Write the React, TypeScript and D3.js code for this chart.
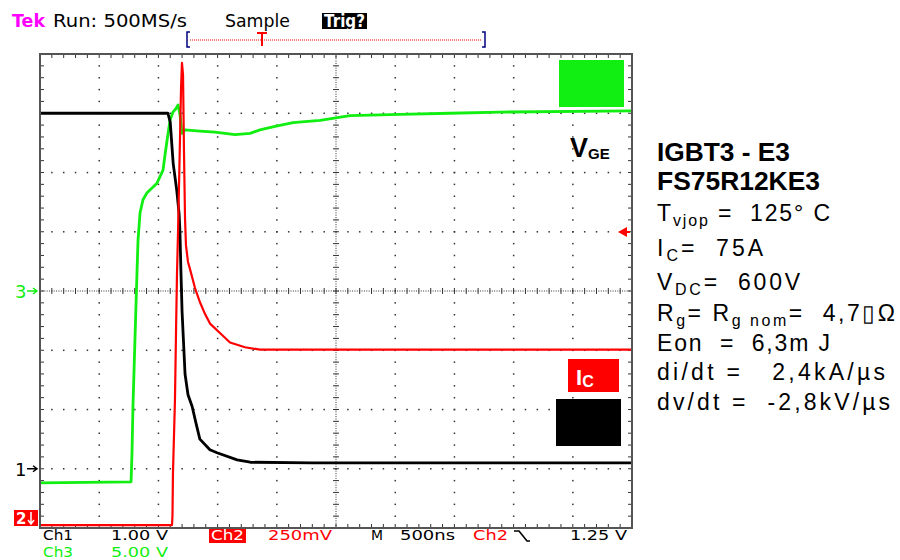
import React from 'react';
import * as d3 from 'd3';

// ---- data ----
// time in ns from left edge of screen (500 ns/div)
const ch1Time = [0, 1080, 1100, 1125, 1155, 1175, 1182, 1190, 1200, 1225, 1250, 1285, 1320, 1350, 1435, 1495, 1665, 1775, 2300, 5000];
const ch1Volt = [6.0, 6.0, 5.85, 5.15, 4.7, 4.3, 4.0, 3.35, 2.65, 1.6, 1.25, 1.05, 0.75, 0.5, 0.32, 0.27, 0.15, 0.11, 0.1, 0.1];

const ch3Time = [0, 769, 777, 785, 802, 819, 828, 845, 870, 904, 946, 988, 1039, 1056, 1073, 1098, 1123, 1149, 1166, 1182, 1199, 1225, 1351, 1478, 1647, 1774, 1858, 1985, 2137, 2365, 2618, 3041, 3463, 3885, 5000];
const ch3Volt = [-16.2, -16.1, -13.7, -9.8, -4.1, 1.5, 4.3, 6.6, 7.7, 8.3, 8.7, 9.1, 10.2, 11.5, 12.7, 14.4, 15.1, 15.4, 15.7, 14.9, 13.3, 13.6, 13.5, 13.4, 13.2, 13.3, 13.6, 13.9, 14.2, 14.4, 14.8, 14.9, 15.0, 15.1, 15.2];

const ch2Time = [0, 1115, 1119, 1123, 1140, 1149, 1157, 1166, 1182, 1191, 1199, 1208, 1216, 1225, 1233, 1250, 1267, 1309, 1351, 1394, 1436, 1520, 1605, 1731, 1858, 5000];
const ch2Volt = [0, 0, 0.04, 0.22, 0.53, 0.82, 1.06, 1.24, 1.62, 1.84, 1.95, 1.9, 1.58, 1.29, 1.18, 1.11, 1.08, 1.0, 0.94, 0.89, 0.85, 0.81, 0.77, 0.75, 0.74, 0.74];

// channel settings: volts/div and ground offset (div from centre)
const ch1Scale = 1.0, ch1Offset = -3;
const ch2Scale = 0.25, ch2Offset = -3.95;
const ch3Scale = 5.0, ch3Offset = 0;
const timePerDiv = 500;

const headerTexts = ['Tek', 'Run: 500MS/s', 'Sample', 'Trig?'];
const footerRow1 = ['Ch1', '1.00 V', 'Ch2', '250mV', 'M', '500ns', 'Ch2', '1.25 V'];
const footerRow2 = ['Ch3', '5.00 V'];

// ---- layout ----
const W = 900, H = 560;
const X0 = 40, X1 = 632, Y0 = 54, Y1 = 528;
const NX = 10, NY = 8;

const GREEN = '#11ee11';
const RED = '#ff0000';

export default function App() {
  const x = d3.scaleLinear().domain([0, NX * timePerDiv]).range([X0, X1]);
  const y = d3.scaleLinear().domain([-NY / 2, NY / 2]).range([Y1, Y0]);
  const xd = d3.scaleLinear().domain([0, NX]).range([X0, X1]);

  const mk = (t: number[], v: number[], sc: number, off: number) =>
    d3.line<number>().x((_, i) => x(t[i])).y((_, i) => y(v[i] / sc + off))(t);

  const p1 = mk(ch1Time, ch1Volt, ch1Scale, ch1Offset) || '';
  const p2 = mk(ch2Time, ch2Volt, ch2Scale, ch2Offset) || '';
  const p3 = mk(ch3Time, ch3Volt, ch3Scale, ch3Offset) || '';

  const dots: JSX.Element[] = [];
  const gridCol = '#333';
  for (let i = 1; i < NX; i++) {
    if (i === NX / 2) continue;
    for (let j = 1; j < NY * 5; j++) {
      dots.push(<rect key={`v${i}-${j}`} x={xd(i) - 0.7} y={y(-NY / 2 + j / 5) - 0.7} width={1.5} height={1.5} fill={gridCol} />);
    }
  }
  for (let j = 1; j < NY; j++) {
    if (j === NY / 2) continue;
    for (let i = 1; i < NX * 5; i++) {
      dots.push(<rect key={`h${i}-${j}`} x={xd(i / 5) - 0.7} y={y(-NY / 2 + j) - 0.7} width={1.5} height={1.5} fill={gridCol} />);
    }
  }
  const cx = xd(NX / 2), cy = y(0);
  const centre: JSX.Element[] = [];
  for (let i = 0; i <= NX * 25; i++) {
    centre.push(<rect key={`ch${i}`} x={xd(i / 25) - 0.5} y={cy - 0.5} width={1} height={1} fill={gridCol} />);
  }
  for (let j = 0; j <= NY * 25; j++) {
    centre.push(<rect key={`cv${j}`} x={cx - 0.5} y={y(-NY / 2 + j / 25) - 0.5} width={1} height={1} fill={gridCol} />);
  }
  for (let i = 1; i < NX * 5; i++) {
    centre.push(<line key={`cth${i}`} x1={xd(i / 5)} x2={xd(i / 5)} y1={cy - 3} y2={cy + 3} stroke={gridCol} strokeWidth={1} />);
  }
  for (let j = 1; j < NY * 5; j++) {
    centre.push(<line key={`ctv${j}`} x1={cx - 3} x2={cx + 3} y1={y(-NY / 2 + j / 5)} y2={y(-NY / 2 + j / 5)} stroke={gridCol} strokeWidth={1} />);
  }
  const edge: JSX.Element[] = [];
  for (let i = 1; i < NX * 5; i++) {
    const xx = xd(i / 5);
    edge.push(<line key={`et${i}`} x1={xx} x2={xx} y1={Y0} y2={Y0 + 4} stroke={gridCol} />);
    edge.push(<line key={`eb${i}`} x1={xx} x2={xx} y1={Y1} y2={Y1 - 4} stroke={gridCol} />);
  }
  for (let j = 1; j < NY * 5; j++) {
    const yy = y(-NY / 2 + j / 5);
    edge.push(<line key={`el${j}`} x1={X0} x2={X0 + 4} y1={yy} y2={yy} stroke={gridCol} />);
    edge.push(<line key={`er${j}`} x1={X1} x2={X1 - 4} y1={yy} y2={yy} stroke={gridCol} />);
  }

  const scopeFont = "'DejaVu Sans', sans-serif";
  const panelFont = "'Liberation Sans', Arial, sans-serif";
  const trigX = 262;
  const pre = { whiteSpace: 'pre' as const };

  return (
    <svg width={W} height={H} style={{ position: 'absolute', left: 0, top: 0, background: '#fff' }} xmlns="http://www.w3.org/2000/svg">
      <rect x={0} y={0} width={W} height={H} fill="#fff" />
      {/* header */}
      <g fontFamily={scopeFont} fontSize={17}>
        <text x={12} y={27} fill="#ff00ff" fontWeight="bold" textLength={33} lengthAdjust="spacingAndGlyphs">{headerTexts[0]}</text>
        <text x={53} y={27} fill="#000" textLength={134} lengthAdjust="spacingAndGlyphs">{headerTexts[1]}</text>
        <text x={225} y={27} fill="#000" textLength={65} lengthAdjust="spacingAndGlyphs">{headerTexts[2]}</text>
        <rect x={322} y={13} width={45} height={16} fill="#000" />
        <text x={324} y={27} fill="#fff" fontWeight="bold" textLength={41} lengthAdjust="spacingAndGlyphs">{headerTexts[3]}</text>
      </g>
      {/* trigger bar */}
      <line x1={190} x2={482} y1={40} y2={40} stroke={RED} strokeWidth={1} strokeDasharray="1 1" />
      <path d="M190,32 L187,32 L187,47 L190,47" fill="none" stroke="#000080" strokeWidth={1.5} />
      <path d="M482,32 L485,32 L485,47 L482,47" fill="none" stroke="#000080" strokeWidth={1.5} />
      <path d={`M${trigX - 5},33 L${trigX + 5},33 M${trigX},33 L${trigX},46`} stroke={RED} strokeWidth={2} fill="none" />

      {/* plot area */}
      <rect x={X0} y={Y0} width={X1 - X0} height={Y1 - Y0} fill="#fff" />
      {dots}
      {centre}
      {edge}
      <defs>
        <clipPath id="plotclip"><rect x={X0} y={Y0} width={X1 - X0} height={Y1 - Y0} /></clipPath>
      </defs>
      <g clipPath="url(#plotclip)" fill="none" strokeLinejoin="round">
        <path d={p3} stroke={GREEN} strokeWidth={2.8} />
        <path d={p1} stroke="#000" strokeWidth={2.8} />
        <path d={p2} stroke={RED} strokeWidth={2.2} />
      </g>
      <rect x={X0} y={Y0} width={X1 - X0} height={Y1 - Y0} fill="none" stroke="#555" strokeWidth={2} />

      {/* channel markers */}
      <text x={15} y={y(ch3Offset) + 7} fill={GREEN} fontFamily={scopeFont} fontSize={18}>3</text>
      <path d={`M27,${y(ch3Offset)} L37,${y(ch3Offset)} M33,${y(ch3Offset) - 3} L37,${y(ch3Offset)} L33,${y(ch3Offset) + 3}`} stroke={GREEN} strokeWidth={1.5} fill="none" />
      <text x={15} y={y(ch1Offset) + 7} fill="#000" fontFamily={scopeFont} fontSize={18}>1</text>
      <path d={`M27,${y(ch1Offset)} L37,${y(ch1Offset)} M33,${y(ch1Offset) - 3} L37,${y(ch1Offset)} L33,${y(ch1Offset) + 3}`} stroke="#000" strokeWidth={1.5} fill="none" />
      <rect x={14} y={510} width={24} height={16} fill={RED} />
      <text x={16} y={524} fill="#fff" fontFamily={scopeFont} fontSize={15} fontWeight="bold">2</text>
      <path d="M31,512 L31,523 M28,520 L31,524 L34,520" stroke="#fff" strokeWidth={1.5} fill="none" />
      <path d={`M618,232 L627,227 L627,237 Z`} fill={RED} />
      <line x1={624} x2={630} y1={232} y2={232} stroke={RED} strokeWidth={2} />

      {/* legend boxes */}
      <rect x={559} y={60} width={65} height={47} fill={GREEN} />
      <text x={570} y={157} fontFamily={panelFont} fontWeight="bold" fontSize={27} fill="#000">V<tspan fontSize={15} dy={2}>GE</tspan></text>
      <rect x={568} y={359} width={51} height={33} fill={RED} />
      <text x={576} y={385} fontFamily={panelFont} fontWeight="bold" fontSize={22} fill="#fff">I<tspan fontSize={16} dy={2}>C</tspan></text>
      <rect x={556} y={399} width={65} height={47} fill="#000" />

      {/* footer */}
      <g fontFamily={scopeFont} fontSize={14}>
        <text x={43} y={540} fill="#000" textLength={30} lengthAdjust="spacingAndGlyphs">{footerRow1[0]}</text>
        <text x={111} y={540} fill="#000" textLength={57} lengthAdjust="spacingAndGlyphs">{footerRow1[1]}</text>
        <rect x={209} y={529} width={37} height={14} fill={RED} />
        <text x={211} y={540} fill="#fff" textLength={33} lengthAdjust="spacingAndGlyphs">{footerRow1[2]}</text>
        <text x={268} y={540} fill={RED} textLength={64} lengthAdjust="spacingAndGlyphs">{footerRow1[3]}</text>
        <text x={371} y={540} fill="#000" textLength={12} lengthAdjust="spacingAndGlyphs">{footerRow1[4]}</text>
        <text x={400} y={540} fill="#000" textLength={55} lengthAdjust="spacingAndGlyphs">{footerRow1[5]}</text>
        <text x={473} y={540} fill={RED} textLength={35} lengthAdjust="spacingAndGlyphs">{footerRow1[6]}</text>
        <path d="M514,531 L519,531 L527,541 L530,541" stroke="#000" strokeWidth={1.6} fill="none" />
        <text x={570} y={540} fill="#000" textLength={57} lengthAdjust="spacingAndGlyphs">{footerRow1[7]}</text>
        <text x={43} y={557} fill={GREEN} textLength={30} lengthAdjust="spacingAndGlyphs">{footerRow2[0]}</text>
        <text x={111} y={557} fill={GREEN} textLength={57} lengthAdjust="spacingAndGlyphs">{footerRow2[1]}</text>
      </g>

      {/* right panel */}
      <g fontFamily={panelFont} fill="#000" style={pre}>
        <text x={657} y={161} fontSize={26} fontWeight="bold" textLength={133} lengthAdjust="spacingAndGlyphs">IGBT3 - E3</text>
        <text x={657} y={190} fontSize={26} fontWeight="bold" textLength={163} lengthAdjust="spacingAndGlyphs">FS75R12KE3</text>
        <g fontSize={23}>
          <text x={657} y={221} textLength={173} lengthAdjust="spacing" style={pre}>T<tspan fontSize={16} dy={5}>vjop</tspan><tspan dy={-5}>{' =  125° C'}</tspan></text>
          <text x={657} y={256} textLength={106} lengthAdjust="spacing" style={pre}>I<tspan fontSize={16} dy={5}>C</tspan><tspan dy={-5}>{'=  75A'}</tspan></text>
          <text x={657} y={290} textLength={143} lengthAdjust="spacing" style={pre}>V<tspan fontSize={16} dy={5}>DC</tspan><tspan dy={-5}>{'=  600V'}</tspan></text>
          <text x={657} y={321} textLength={238} lengthAdjust="spacing" style={pre}>R<tspan fontSize={16} dy={5}>g</tspan><tspan dy={-5}>{'= R'}</tspan><tspan fontSize={16} dy={5}>{'g nom'}</tspan><tspan dy={-5}>{'=  4,7'}</tspan><tspan fontFamily="'DejaVu Sans'" fontWeight="100">{'\u25AF'}</tspan><tspan>{'Ω'}</tspan></text>
          <text x={657} y={351} textLength={173} lengthAdjust="spacing" style={pre}>{'Eon  =  6,3m J'}</text>
          <text x={657} y={380} textLength={228} lengthAdjust="spacing" style={pre}>{'di/dt =   2,4kA/µs'}</text>
          <text x={657} y={410} textLength={233} lengthAdjust="spacing" style={pre}>{'dv/dt =  -2,8kV/µs'}</text>
        </g>
      </g>
    </svg>
  );
}
